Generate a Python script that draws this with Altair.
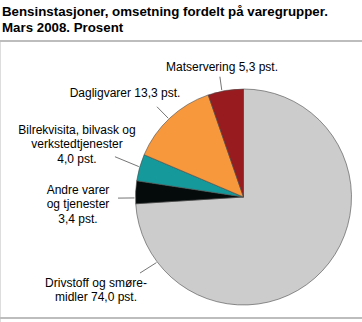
import altair as alt
import pandas as pd
import numpy as np

# ---- data ----
categories = ["Drivstoff og smøremidler", "Andre varer og tjenester",
              "Bilrekvisita, bilvask og verkstedtjenester", "Dagligvarer", "Matservering"]
values = [74.0, 3.4, 4.0, 13.3, 5.3]
labels = ["Drivstoff og smøre-\nmidler 74,0 pst.",
          "Andre varer\nog tjenester\n3,4 pst.",
          "Bilrekvisita, bilvask og\nverkstedtjenester\n4,0 pst.",
          "Dagligvarer 13,3 pst.",
          "Matservering 5,3 pst."]
colors = ["#cccccc", "#050a0a", "#15999a", "#f7983c", "#981b1f"]

# ---- layout (style) ----
W, H = 362, 322
TOP = 40              # view starts under the title rule
CX, CY, R = 243.5, 197 - TOP, 108
LH = 14.5
lead_in = [233.0, 269.5, 286.2, 316.3, 348.5]
lead_out = [233.7, 269.5, 287.4, 316.2, 348.9]
lead_rout = [128.4, 125.5, 134.7, 125.0, 122.6]
text_x = [96, 78, 77, 125, 222]
text_y = [290 - TOP, 204 - TOP, 144 - TOP, 93 - TOP, 67 - TOP]

df = pd.DataFrame({"category": categories, "value": values,
                   "order": list(range(len(categories)))})

a_in = np.radians(lead_in)
a_out = np.radians(lead_out)
df["x1"] = CX + (R + 1) * np.sin(a_in)
df["y1"] = CY - (R + 1) * np.cos(a_in)
df["x2"] = CX + np.array(lead_rout) * np.sin(a_out)
df["y2"] = CY - np.array(lead_rout) * np.cos(a_out)

rows = []
for lab, tx, ty in zip(labels, text_x, text_y):
    parts = lab.split("\n")
    n = len(parts)
    for i, p in enumerate(parts):
        rows.append({"line": p, "tx": tx, "ty": ty + (i - (n - 1) / 2) * LH})
tdf = pd.DataFrame(rows)

FONT = "Liberation Sans"

pie = alt.Chart(df).mark_arc(radius=R, stroke="#4a4a4a", strokeWidth=0.6).encode(
    theta=alt.Theta("value:Q", stack=True),
    order=alt.Order("order:Q"),
    color=alt.Color("category:N", scale=alt.Scale(domain=categories, range=colors), legend=None),
    x=alt.value(CX),
    y=alt.value(CY),
)

leaders = alt.Chart(df).mark_rule(color="#3a3a3a", strokeWidth=0.7).encode(
    x=alt.X("x1:Q", scale=None),
    y=alt.Y("y1:Q", scale=None),
    x2="x2:Q",
    y2="y2:Q",
)

texts = alt.Chart(tdf).mark_text(font=FONT, fontSize=12,
                                 align="center", baseline="middle", color="#000000").encode(
    x=alt.X("tx:Q", scale=None),
    y=alt.Y("ty:Q", scale=None),
    text="line:N",
)

top_rule = alt.Chart(df).mark_rule(color="#bdbdbd", strokeWidth=2).encode(
    x=alt.value(0), x2=alt.value(W), y=alt.value(1))
bottom_rule = alt.Chart(df).mark_rule(color="#bdbdbd", strokeWidth=2).encode(
    x=alt.value(0), x2=alt.value(W), y=alt.value(318 - TOP))

chart = alt.layer(top_rule, bottom_rule, pie, leaders, texts).properties(
    width=W, height=H - TOP,
    padding={"left": 0, "right": 0, "top": TOP, "bottom": 0},
    autosize=alt.AutoSizeParams(type="none"),
    title=alt.TitleParams(
        text=["Bensinstasjoner, omsetning fordelt på varegrupper.", "Mars 2008. Prosent"],
        anchor="start", orient="top", font=FONT, fontSize=13.3, fontWeight="bold",
        color="#000000", offset=6, lineHeight=16, dx=3),
).configure_view(stroke=None).configure(background="#ffffff")

chart.save("out.html", embed_options={"renderer": "svg", "actions": False})
